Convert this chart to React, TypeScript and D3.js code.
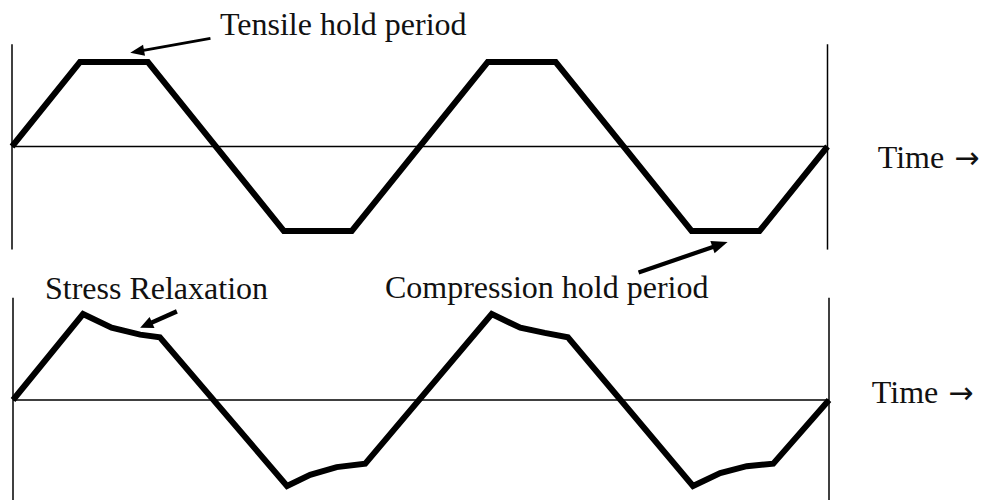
import React from "react";
import * as d3 from "d3";

// Idealised strain waveform with tensile and compression hold periods (time units, normalised amplitude)
const holdTimes = [0, 1, 2, 4, 5, 7, 8, 10, 11, 12];
const holdValues = [0, 1, 1, -1, -1, 1, 1, -1, -1, 0];

// Stress response showing relaxation during each hold
const relaxTimes = [0, 1.03, 1.45, 1.87, 2.16, 4.03, 4.37, 4.76, 5.18, 7.04, 7.46, 7.82, 8.16, 10.0, 10.4, 10.79, 11.18, 12];
const relaxValues = [0, 1, 0.84, 0.76, 0.73, -1, -0.87, -0.78, -0.74, 1, 0.84, 0.78, 0.73, -1, -0.85, -0.77, -0.74, 0];

const timeWord = "Time";
const timeArrow = "\u2192";
const tensileLabel = "Tensile hold period";
const compressionLabel = "Compression hold period";
const relaxationLabel = "Stress Relaxation";

const W = 986;
const H = 500;
const FONT = "'Liberation Serif', 'Times New Roman', serif";

type Pt = [number, number];

const topX = d3.scaleLinear().domain([0, 12]).range([12, 827.5]);
const topY = d3.scaleLinear().domain([-1, 1]).range([231, 62]);
const botX = d3.scaleLinear().domain([0, 12]).range([13, 829]);
const botY = d3.scaleLinear().domain([-1, 1]).range([486, 314]);

function Arrow({ from, to, width, head, headW }: { from: Pt; to: Pt; width: number; head: number; headW: number }) {
  const dx = to[0] - from[0];
  const dy = to[1] - from[1];
  const len = Math.hypot(dx, dy);
  const ux = dx / len;
  const uy = dy / len;
  const bx = to[0] - ux * head;
  const by = to[1] - uy * head;
  const px = -uy * (headW / 2);
  const py = ux * (headW / 2);
  const tri = `M${to[0]},${to[1]}L${bx + px},${by + py}L${bx - px},${by - py}Z`;
  return (
    <g>
      <line x1={from[0]} y1={from[1]} x2={bx + ux * 2} y2={by + uy * 2} stroke="#000" strokeWidth={width} />
      <path d={tri} fill="#000" />
    </g>
  );
}

function Panel({
  x,
  y,
  times,
  values,
  top,
  bottom,
}: {
  x: d3.ScaleLinear<number, number>;
  y: d3.ScaleLinear<number, number>;
  times: number[];
  values: number[];
  top: number;
  bottom: number;
}) {
  const line = d3
    .line<number>()
    .x((_, i) => x(times[i]))
    .y((_, i) => y(values[i]))
    .curve(d3.curveLinear);
  const [t0, t1] = x.domain();
  return (
    <g>
      <line x1={x(t0)} x2={x(t0)} y1={y(top)} y2={y(bottom)} stroke="#000" strokeWidth={1.5} />
      <line x1={x(t1)} x2={x(t1)} y1={y(top)} y2={y(bottom)} stroke="#000" strokeWidth={1.5} />
      <line x1={x(t0)} x2={x(t1)} y1={y(0)} y2={y(0)} stroke="#000" strokeWidth={1.5} />
      <path d={line(values) || ""} fill="none" stroke="#000" strokeWidth={6} strokeLinejoin="miter" strokeMiterlimit={4} />
    </g>
  );
}

function TimeLabel({ x, y }: { x: number; y: number }) {
  return (
    <text x={x} y={y}>
      {timeWord}
      <tspan dx={10} fontFamily="'DejaVu Sans', sans-serif" fontSize={30}>{timeArrow}</tspan>
    </text>
  );
}

export default function App() {
  return (
    <svg width={W} height={H} style={{ position: "absolute", left: 0, top: 0, background: "#fff" }}>
      <rect width={W} height={H} fill="#fff" />
      <Panel x={topX} y={topY} times={holdTimes} values={holdValues} top={1.21} bottom={-1.22} />
      <Panel x={botX} y={botY} times={relaxTimes} values={relaxValues} top={1.19} bottom={-1.2} />

      <g fontFamily={FONT} fontSize={32} fill="#111">
        <text x={topX(3.06)} y={topY(1.32)}>{tensileLabel}</text>
        <TimeLabel x={topX(12.74)} y={topY(-0.26)} />
        <text x={botX(0.47)} y={botY(1.17)}>{relaxationLabel}</text>
        <text x={botX(5.47)} y={botY(1.19)}>{compressionLabel}</text>
        <TimeLabel x={botX(12.63)} y={botY(-0.04)} />
      </g>

      <Arrow from={[topX(2.92), topY(1.28)]} to={[topX(1.74), topY(1.11)]} width={2.8} head={14} headW={11} />
      <Arrow from={[topX(9.22), topY(-1.49)]} to={[topX(10.53), topY(-1.13)]} width={4.2} head={16} headW={13} />
      <Arrow from={[botX(2.41), botY(1.03)]} to={[botX(1.87), botY(0.84)]} width={4.5} head={13} headW={12} />
    </svg>
  );
}
